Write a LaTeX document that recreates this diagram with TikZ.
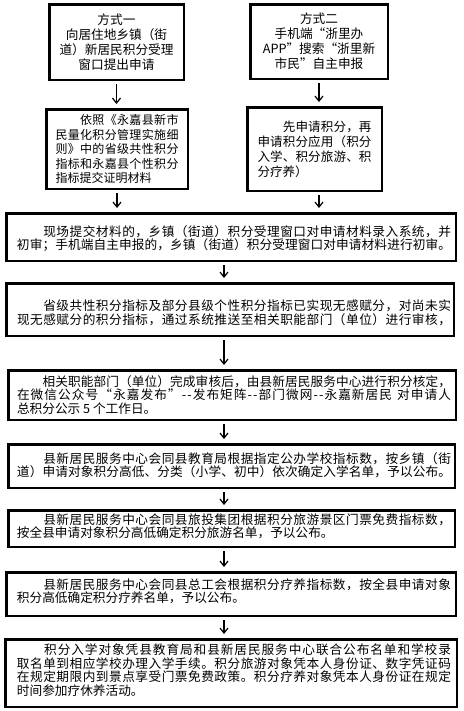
\documentclass[tikz,border=0pt]{standalone}
\usepackage{fontspec}
\setmainfont{Noto Sans CJK SC}
\usetikzlibrary{arrows.meta}
\newdimen\pxd \pxd=0.75pt
\newdimen\lw
\def\jlrest#1{\ifx#1\relax\else\hskip 0pt plus 1fil\relax#1\expandafter\jlrest\fi}
\def\jlfirst#1{#1\jlrest}
\newcommand\jline[1]{\hbox to \lw{\jlfirst#1\relax}}
\newcommand\cln[1]{\hbox to \lw{\hfil#1\hfil}}
\newcommand\nln[1]{\hbox to \lw{#1\hfil}}
% #1 line width px, #2 baselineskip px, #3 h offset px, #4 top skip px, #5 bottom skip px, #6 lines
\newcommand\tbox[6]{\hbox{\hskip #3\pxd\vbox{\lw=#1\pxd\baselineskip=#2\pxd\lineskip=0pt\vskip #4\pxd #6\vskip #5\pxd}}}
\begin{document}
\begin{tikzpicture}[x=0.75pt,y=-0.75pt,
  box/.style={draw=black,line width=1.875pt,inner sep=0pt,fill=white,
    font=\fontsize{9.5}{12}\selectfont},
  arr/.style={draw=black,line width=0.9pt,-{Straight Barb[length=3.75pt,width=6pt]},
    shorten <=2.5pt,shorten >=3pt}]
\fill[white] (0,0) rectangle (464,711);
\useasboundingbox (0,0) rectangle (464,711);

\node[box,minimum width=100.875pt,minimum height=56.625pt] (b1) at (116.5,42)
  {\tbox{125}{15}{0}{0}{0}{\cln{方式一}\cln{向居住地乡镇（街}\cln{道）新居民积分受理}\cln{窗口提出申请}}};
\node[box,minimum width=103.125pt,minimum height=55.875pt] (b2) at (319,41.5)
  {\tbox{128}{15}{0}{0}{0}{\cln{方式二}\cln{手机端“浙里办}\cln{APP”搜索“浙里新}\cln{市民”自主申报}}};
\node[box,minimum width=106.125pt,minimum height=59.625pt,font=\fontsize{9}{12}\selectfont] (b3) at (117,149)
  {\tbox{123}{14.5}{0}{0}{0}{\jline{　　依照《永嘉县新市}\jline{民量化积分管理实施细}\jline{则》中的省级共性积分}\jline{指标和永嘉县个性积分}\nln{指标提交证明材料}}};
\node[box,minimum width=100.875pt,minimum height=62.625pt,font=\fontsize{9.4}{12}\selectfont] (b4) at (314.5,149)
  {\tbox{114}{15}{0}{0}{0}{\jline{　　先申请积分，再}\jline{申请积分应用（积分}\jline{入学、积分旅游、积}\nln{分疗养）}}};

\node[box,minimum width=337.125pt,minimum height=35.625pt] (b5) at (231,237)
  {\tbox{434}{13.5}{6}{3}{0}{\jline{　　现场提交材料的，乡镇（街道）积分受理窗口对申请材料录入系统，并}\jline{初审；手机端自主申报的，乡镇（街道）积分受理窗口对申请材料进行初审。}}};
\node[box,minimum width=335.625pt,minimum height=39.375pt] (b6) at (230,309.5)
  {\tbox{434}{14}{8}{6}{0}{\jline{　　省级共性积分指标及部分县级个性积分指标已实现无感赋分，对尚未实}\jline{现无感赋分的积分指标，通过系统推送至相关职能部门（单位）进行审核，}}};
\node[box,minimum width=335.625pt,minimum height=37.125pt] (b7) at (232,395)
  {\tbox{434}{13.5}{4}{0}{0}{\jline{　　相关职能部门（单位）完成审核后，由县新居民服务中心进行积分核定，}\jline{在微信公众号“永嘉发布”--发布矩阵--部门微网--永嘉新居民\ 对申请人}\nln{总积分公示 5 个工作日。}}};
\node[box,minimum width=334.875pt,minimum height=32.625pt] (b8) at (231.5,466)
  {\tbox{434}{13.5}{5}{0}{2}{\jline{　　县新居民服务中心会同县教育局根据指定公办学校指标数，按乡镇（街}\jline{道）申请对象积分高低、分类（小学、初中）依次确定入学名单，予以公布。}}};
\node[box,minimum width=334.875pt,minimum height=27.375pt] (b9) at (231.5,528.5)
  {\tbox{434}{13}{5}{0}{5}{\jline{　　县新居民服务中心会同县旅投集团根据积分旅游景区门票免费指标数，}\nln{按全县申请对象积分高低确定积分旅游名单，予以公布。}}};
\node[box,minimum width=337.125pt,minimum height=32.625pt] (b10) at (231,594)
  {\tbox{434}{13}{6}{0}{5}{\jline{　　县新居民服务中心会同县总工会根据积分疗养指标数，按全县申请对象}\nln{积分高低确定积分疗养名单，予以公布。}}};
\node[box,minimum width=338.625pt,minimum height=50.625pt] (b11) at (231,673)
  {\tbox{434}{13.5}{6}{0}{6}{\jline{　　积分入学对象凭县教育局和县新居民服务中心联合公布名单和学校录}\jline{取名单到相应学校办理入学手续。积分旅游对象凭本人身份证、数字凭证码}\jline{在规定期限内到景点享受门票免费政策。积分疗养对象凭本人身份证在规定}\nln{时间参加疗休养活动。}}};

\coordinate (spine) at (224,0);
\draw[arr] (b1.south) -- (b1.south |- b3.north);
\draw[arr] (b2.south) -- (b2.south |- b4.north);
\draw[arr] (b3.south) -- (b3.south |- b5.north);
\draw[arr] (b2.south |- b4.south) -- (b2.south |- b5.north);
\draw[arr] (spine |- b5.south) -- (spine |- b6.north);
\draw[arr] (spine |- b6.south) -- (spine |- b7.north);
\draw[arr] (spine |- b7.south) -- (spine |- b8.north);
\draw[arr] (spine |- b8.south) -- (spine |- b9.north);
\draw[arr] (spine |- b9.south) -- (spine |- b10.north);
\draw[arr] (spine |- b10.south) -- (spine |- b11.north);
\end{tikzpicture}
\end{document}
